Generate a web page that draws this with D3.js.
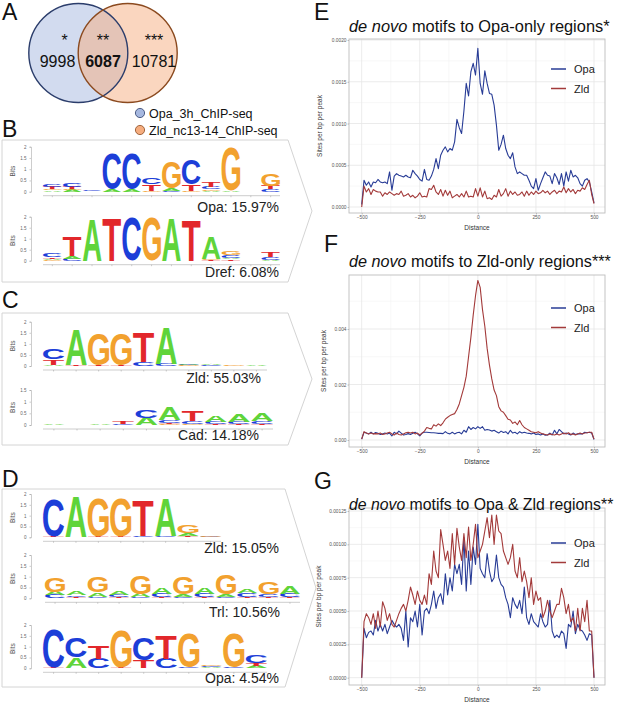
<!DOCTYPE html>
<html>
<head>
<meta charset="utf-8">
<script src="https://cdn.jsdelivr.net/npm/d3@7.9.0/dist/d3.min.js"></script>
<style>
  body { margin: 0; background: #fff; }
  text { font-family: "Liberation Sans", Arial, sans-serif; }
</style>
</head>
<body>
<svg id="fig" width="617" height="703"></svg>
<script>
// ---------------- Venn (panel A) ----------------
const vennSets = ['Opa_3h_ChIP-seq', 'Zld_nc13-14_ChIP-seq'];
const vennCounts = [9998, 6087, 10781];
const vennStars = ['*', '**', '***'];

// ---------------- motif logos (panels B-D), stacks bottom -> top, in bits ----------------
const logoB1 = [
  [['A', .06], ['G', .06], ['T', .1], ['C', .11]],
  [['A', .08], ['G', .06], ['T', .08], ['C', .18]],
  [['G', .02], ['C', .03]],
  [['A', .08], ['C', 1.6]],
  [['A', .1], ['C', 1.6]],
  [['G', .05], ['T', .28], ['C', .28]],
  [['C', .05], ['A', .1], ['G', 1.15]],
  [['G', .05], ['T', .28], ['C', 1.1]],
  [['A', .05], ['G', .05], ['C', .1], ['T', .2]],
  [['A', .05], ['G', 1.9]],
  [['A', .02], ['C', .02]],
  [['C', .1], ['T', .15], ['G', .55]]
];
const logoB2 = [
  [['G', .05], ['A', .05], ['T', .06], ['C', .2]],
  [['C', .1], ['A', .1], ['T', .85]],
  [['A', 1.9]],
  [['T', 1.95]],
  [['C', 1.95]],
  [['G', 1.95]],
  [['A', 1.95]],
  [['T', 1.85]],
  [['T', .05], ['G', .05], ['A', 1.0]],
  [['T', .06], ['A', .08], ['C', .1], ['G', .15]],
  [['C', .02], ['G', .02]],
  [['A', .05], ['C', .13], ['T', .2]]
];
const logoC1 = [
  [['A', .05], ['T', .25], ['C', .45]],
  [['T', .05], ['A', 1.6]],
  [['T', .04], ['G', 1.45]],
  [['T', .04], ['G', 1.45]],
  [['C', .18], ['T', 1.35]],
  [['C', .1], ['A', 1.65]],
  [['G', .03], ['C', .03], ['A', .04]],
  [['C', .03], ['A', .03]],
  [['G', .03]],
  [['A', .05]]
];
const logoC2 = [
  [['A', .03]],
  [['G', .02], ['A', .02]],
  [['C', .02], ['A', .03]],
  [['C', .05], ['T', .08]],
  [['A', .3], ['C', .33]],
  [['G', .03], ['T', .05], ['C', .12], ['A', .55]],
  [['G', .04], ['C', .12], ['T', .45]],
  [['T', .05], ['C', .1], ['A', .28]],
  [['T', .05], ['C', .08], ['A', .3]],
  [['T', .06], ['C', .1], ['A', .3]]
];
const logoD1 = [
  [['T', .05], ['C', 1.72]],
  [['A', 1.88]],
  [['T', .03], ['G', 1.78]],
  [['T', .03], ['G', 1.78]],
  [['C', .08], ['T', 1.62]],
  [['C', .05], ['A', 1.72]],
  [['T', .05], ['A', .13], ['G', .38]],
  [['C', .03], ['G', .04]]
];
const logoD2 = [
  [['C', .15], ['A', .15], ['G', .66]],
  [['T', .05], ['C', .08], ['A', .17]],
  [['C', .08], ['A', .2], ['G', .75]],
  [['T', .05], ['C', .1], ['A', .2]],
  [['C', .05], ['A', .15], ['G', .87]],
  [['T', .05], ['C', .15], ['A', .3]],
  [['C', .07], ['A', .1], ['G', .8]],
  [['T', .05], ['C', .15], ['A', .3]],
  [['C', .07], ['A', .1], ['G', .9]],
  [['T', .06], ['C', .18], ['A', .18]],
  [['T', .05], ['C', .12], ['G', .55]],
  [['T', .05], ['C', .15], ['A', .37]]
];
const logoD3 = [
  [['T', .03], ['C', 1.78]],
  [['A', .5], ['C', .88]],
  [['C', .45], ['T', .6]],
  [['T', .03], ['G', 1.68]],
  [['T', .38], ['C', 1.0]],
  [['C', .45], ['T', 1.05]],
  [['C', .03], ['G', 1.58]],
  [['A', .05], ['C', .05], ['G', .05]],
  [['C', .03], ['G', 1.58]],
  [['A', .1], ['T', .12], ['C', .35]]
];

// ---------------- motif density profiles (panels E-G), bins of 10 bp ----------------
const distance = d3.range(-500, 501, 10);
const eOpa = [
  .00003, .00032, .00026, .0003, .00024, .0003, .00029, .00033, .0003, .00029,
  .0003, .00028, .00042, .0002, .00037, .0004, .00038, .00037, .00036, .00038,
  .00036, .00035, .00044, .0004, .00037, .00033, .00031, .00045, .00033, .00032,
  .00037, .00045, .00058, .00046, .00062, .00068, .00072, .00066, .0007, .00068,
  .00078, .00105, .00095, .00088, .00115, .00148, .00133, .00162, .00172, .00158,
  .0019, .00148, .00135, .00163, .00148, .00136, .00135, .00122, .00098, .00068,
  .00075, .00086, .0007, .00062, .00058, .00065, .00048, .0004, .00042, .0004,
  .00038, .00038, .00032, .00025, .00022, .00034, .0002, .00028, .00035, .00042,
  .00038, .00037, .00028, .0004, .00035, .00027, .0004, .00025, .00042, .00031,
  .00044, .00036, .00038, .00035, .00028, .00025, .00032, .00034, .0003, .00018,
  .00005
];
const eZld = [
  0, .00025, .00018, .00022, .00015, .00021, .00019, .00018, .00018, .00013,
  .00017, .00015, .00018, .00016, .00014, .00016, .00015, .00019, .00013, .00014,
  .00016, .00012, .00014, .00011, .00013, .00017, .00012, .00013, .00012, .00022,
  .00021, .00026, .00018, .00015, .00021, .00013, .0002, .00014, .00019, .00011,
  .00013, .00015, .00012, .00016, .00012, .00019, .00012, .00013, .00012, .00022,
  .00013, .00023, .00012, .00019, .0001, .00011, .00009, .00014, .00012, .00021,
  .00013, .00016, .00022, .00013, .00019, .00015, .00018, .00014, .00015, .00018,
  .00013, .00019, .00014, .00018, .00015, .00019, .00016, .00017, .0002, .00017,
  .00019, .00015, .00018, .0002, .00016, .00019, .00018, .00024, .00017, .00022,
  .00018, .00021, .00016, .0002, .00019, .00023, .00021, .00027, .00032, .00015,
  .00004
];
const fOpa = [
  .00003, .00028, .00025, .00022, .00028, .00022, .00027, .00024, .0002, .00022,
  .00025, .00022, .00025, .00015, .00028, .00022, .00032, .00025, .00018, .0002,
  .00023, .0002, .00024, .00028, .00022, .00015, .00025, .00028, .00028, .00027,
  .00026, .00026, .00025, .00024, .00024, .00023, .0003, .00024, .00022, .00028,
  .00022, .00026, .00028, .00022, .00035, .00028, .00048, .00038, .00045, .0004,
  .00048, .00042, .00048, .00035, .00038, .00036, .00032, .00035, .0003, .00025,
  .00032, .00027, .0003, .00022, .00035, .00025, .00028, .00022, .0003, .00025,
  .00028, .00025, .00024, .00022, .00025, .0002, .00022, .00018, .00022, .00017,
  .00018, .00025, .00018, .00035, .00022, .00038, .0003, .00022, .00025, .00022,
  .00018, .00025, .0002, .00022, .00023, .00022, .00028, .00026, .00028, .00025,
  .00002
];
const fZld = [
  .00003, .0003, .00025, .00022, .00025, .00022, .00023, .00022, .00025, .0002,
  .00022, .00025, .00028, .00022, .00018, .00025, .0002, .00018, .00022, .00026,
  .00028, .00025, .00028, .00022, .00025, .00018, .00025, .00032, .00045, .00042,
  .0004, .00055, .0005, .00058, .00052, .00062, .00075, .00082, .00088, .00092,
  .00095, .0011, .0013, .0016, .0019, .0023, .003, .0037, .0045, .0052,
  .00575, .0055, .0047, .0041, .0033, .0027, .0022, .0018, .0016, .0012,
  .00105, .001, .00088, .00075, .00072, .0006, .00065, .00055, .0007, .00055,
  .00045, .0004, .00035, .0003, .00028, .00026, .0003, .00025, .00022, .0002,
  .00018, .00022, .0002, .00018, .00022, .00018, .00022, .00025, .00022, .00026,
  .0002, .00022, .00018, .00022, .00025, .00022, .00025, .00026, .00028, .00028,
  .00003
];
const gOpa = [
  0, .00037, .0003, .00034, .00035, .00032, .00043, .00035, .0004, .00035,
  .0004, .00033, .00038, .00043, .0004, .00038, .0004, .00037, .00028, .0005,
  .00023, .00045, .00042, .0005, .00038, .00055, .00032, .0005, .00052, .00048,
  .00055, .00065, .00052, .0006, .00063, .00055, .00078, .00062, .00075, .00065,
  .00085, .00078, .00085, .0007, .00105, .00065, .00095, .0007, .00098, .00085,
  .00115, .00082, .00078, .00075, .00093, .0008, .00072, .00075, .00092, .00075,
  .0007, .00068, .0006, .00055, .00045, .0006, .00055, .00052, .00058, .00048,
  .00068, .00045, .0004, .00048, .00042, .0004, .00038, .00048, .00042, .00038,
  .0004, .00058, .00035, .0003, .00032, .0003, .00035, .00033, .00022, .0004,
  .00038, .0005, .00033, .0004, .00036, .00035, .00032, .00028, .00033, .00032,
  0
];
const gZld = [
  0, .00042, .00048, .00045, .0004, .00048, .00037, .0005, .00038, .00057,
  .00052, .00043, .00048, .0004, .00038, .00043, .00048, .00052, .00055, .0005,
  .00058, .00068, .00062, .00055, .00065, .00058, .00055, .00062, .00055, .00078,
  .0007, .00095, .0008, .00075, .00111, .001, .00088, .00095, .00082, .00108,
  .00085, .00112, .00098, .00088, .00108, .0009, .00113, .00088, .001, .00115,
  .0009, .00095, .001, .0011, .0012, .00105, .00122, .001, .00122, .0011,
  .00108, .00095, .0009, .00085, .0009, .001, .0008, .00075, .0009, .00072,
  .0008, .00072, .0006, .00075, .00055, .00065, .00058, .0006, .00045, .0005,
  .00058, .0005, .00045, .0005, .00055, .00055, .00067, .0006, .00048, .00055,
  .00042, .00045, .00035, .00052, .00035, .00052, .00042, .00058, .00035, .00035,
  0
];
const seriesNames = ['Opa', 'Zld'];

// ---------------- drawing ----------------
const svg = d3.select('#fig');
const baseColor = { A: '#5fd43a', C: '#1c3ed8', G: '#f2a12e', T: '#e2272b' };
const lineColor = { Opa: '#283c96', Zld: '#a33a3a' };

// ink metrics of the bold letters, so each glyph can be stretched to its stack box
const ctx = document.createElement('canvas').getContext('2d');
ctx.font = 'bold 100px "Liberation Sans"';
const ink = {};
'ACGT'.split('').forEach(ch => {
  const m = ctx.measureText(ch);
  ink[ch] = { l: m.actualBoundingBoxLeft, r: m.actualBoundingBoxRight,
              a: m.actualBoundingBoxAscent, d: m.actualBoundingBoxDescent };
});

function panelLetter(txt, x, y) {
  svg.append('text').attr('x', x).attr('y', y).attr('font-size', 23).attr('fill', '#111').text(txt);
}

// ---- A: Venn ----
panelLetter('A', 2, 20);
const venn = svg.append('g');
const vx = d3.scaleLinear().domain([0, 1]).range([78.3, 127.7]);
const circleFill = ['#a6b8e0', '#f5ad7f'];
const circleStroke = ['#2b3d6b', '#8b4a1f'];
venn.selectAll('circle.fill').data(vennSets).join('circle')
  .attr('cx', (d, i) => vx(i)).attr('cy', 53).attr('r', 49.5)
  .attr('fill', (d, i) => circleFill[i]).attr('fill-opacity', 0.5);
venn.selectAll('circle.edge').data(vennSets).join('circle')
  .attr('cx', (d, i) => vx(i)).attr('cy', 53).attr('r', 49.5)
  .attr('fill', 'none').attr('stroke', (d, i) => circleStroke[i]).attr('stroke-width', 1.4);
const regionX = [57.5, 103, 154];
venn.selectAll('text.star').data(vennStars).join('text')
  .attr('x', (d, i) => regionX[i] + (i === 0 ? 7 : 0)).attr('y', 46)
  .attr('text-anchor', 'middle').attr('font-size', 16).attr('fill', '#111').text(d => d);
venn.selectAll('text.count').data(vennCounts).join('text')
  .attr('x', (d, i) => regionX[i]).attr('y', 67)
  .attr('text-anchor', 'middle').attr('font-size', 16)
  .attr('font-weight', (d, i) => i === 1 ? 'bold' : 'normal').attr('fill', '#111').text(d => d);
const leg = venn.selectAll('g.leg').data(vennSets).join('g')
  .attr('transform', (d, i) => `translate(140,${113 + i * 17})`);
leg.append('circle').attr('r', 4.6)
  .attr('fill', (d, i) => circleFill[i]).attr('stroke', (d, i) => circleStroke[i]).attr('stroke-width', 0.8);
leg.append('text').attr('x', 9).attr('y', 5).attr('font-size', 12.5).attr('fill', '#111').text(d => d);

// ---- B-D: chevron frames + logos ----
function chevron(y0, y1, xr, tip) {
  const p = d3.path();
  p.moveTo(2, y0); p.lineTo(xr, y0); p.lineTo(tip, (y0 + y1) / 2);
  p.lineTo(xr, y1); p.lineTo(2, y1); p.closePath();
  svg.append('path').attr('d', p.toString()).attr('fill', 'none')
    .attr('stroke', '#d4d4d4').attr('stroke-width', 1);
}

function drawLogo(cols, o) {
  const g = svg.append('g');
  const x = d3.scaleBand().domain(d3.range(cols.length)).range([o.x0, o.x1]).paddingInner(0.06);
  const y = d3.scaleLinear().domain([0, o.max]).range([o.base, o.top]);
  // axes
  const ya = g.append('g').attr('transform', 'translate(31,0)')
    .call(d3.axisLeft(y).tickValues(d3.range(0, o.max + 0.01, 0.5)).tickSize(1.5).tickFormat(d3.format('~g')));
  const xa = g.append('g').attr('transform', `translate(0,${o.base + 4})`)
    .call(d3.axisBottom(x).tickSize(1.5).tickFormat(''));
  [ya, xa].forEach(a => {
    a.selectAll('path,line').attr('stroke', '#9a9a9a').attr('stroke-width', 0.5);
    a.selectAll('text').attr('font-size', 4.5).attr('fill', '#666').attr('font-family', '"Liberation Sans", Arial');
  });
  xa.select('.domain').attr('d', `M${o.x0},0H${o.x1}`);
  g.append('text').attr('transform', `translate(15,${(o.base + o.top) / 2 + (o.max < 2 ? 0 : 2)}) rotate(-90)`)
    .attr('text-anchor', 'middle').attr('font-size', 6.5).attr('fill', '#555').text('Bits');
  // letters
  cols.forEach((stack, i) => {
    let cum = 0;
    stack.forEach(([ch, b]) => {
      const yb = y(cum), yt = y(cum + b);
      cum += b;
      const h = yb - yt;
      if (h < 0.4) return;
      const w = x.bandwidth();
      const k = ink[ch];
      g.append('text').text(ch).attr('font-size', 100).attr('font-weight', 'bold')
        .attr('fill', baseColor[ch])
        .attr('transform', `translate(${x(i)},${yt}) scale(${w / (k.l + k.r)},${h / (k.a + k.d)}) translate(${k.l},${k.a})`);
    });
  });
  g.append('text').attr('x', o.lx).attr('y', o.ly).attr('text-anchor', 'end')
    .attr('font-size', 14).attr('fill', '#222').text(o.label);
}

panelLetter('B', 2, 137);
chevron(140, 282, 288, 312);
drawLogo(logoB1, { x0: 43, x1: 280, base: 191.7, top: 146.7, max: 2, label: 'Opa: 15.97%', lx: 279, ly: 212 });
drawLogo(logoB2, { x0: 43, x1: 280, base: 260.7, top: 216.7, max: 2, label: 'Dref: 6.08%', lx: 279, ly: 277 });

panelLetter('C', 2, 308);
chevron(313, 445, 288, 312);
drawLogo(logoC1, { x0: 43, x1: 267, base: 366, top: 321.7, max: 2, label: 'Zld: 55.03%', lx: 261, ly: 383 });
drawLogo(logoC2, { x0: 43, x1: 273, base: 425, top: 390, max: 1.5, label: 'Cad: 14.18%', lx: 259, ly: 440 });

panelLetter('D', 2, 487);
chevron(489, 687, 285, 316);
drawLogo(logoD1, { x0: 43, x1: 221, base: 537.3, top: 494, max: 2, label: 'Zld: 15.05%', lx: 279, ly: 553 });
drawLogo(logoD2, { x0: 45, x1: 300, base: 598.3, top: 555, max: 2, label: 'Trl: 10.56%', lx: 280, ly: 617 });
drawLogo(logoD3, { x0: 43, x1: 267, base: 668.3, top: 625, max: 2, label: 'Opa: 4.54%', lx: 279, ly: 683 });

// ---- E-G: profile line charts ----
function drawProfile(o) {
  const g = svg.append('g');
  const x = d3.scaleLinear().domain([-500, 500]).range([361.7, 594]);
  const y = d3.scaleLinear().domain([0, o.yMax]).range([o.y0v, o.y1v]);
  const px0 = 349, px1 = 605;
  // grid
  const xMinor = [-375, -125, 125, 375];
  const xMajor = [-500, -250, 0, 250, 500];
  g.selectAll('line.xm').data(xMinor).join('line')
    .attr('x1', d => x(d)).attr('x2', d => x(d)).attr('y1', o.top).attr('y2', o.bot)
    .attr('stroke', '#f4f4f4').attr('stroke-width', 0.6);
  g.selectAll('line.ym').data(o.minor).join('line')
    .attr('x1', px0).attr('x2', px1).attr('y1', d => y(d)).attr('y2', d => y(d))
    .attr('stroke', '#f4f4f4').attr('stroke-width', 0.6);
  g.selectAll('line.xg').data(xMajor).join('line')
    .attr('x1', d => x(d)).attr('x2', d => x(d)).attr('y1', o.top).attr('y2', o.bot)
    .attr('stroke', '#e6e6e6').attr('stroke-width', 0.8);
  g.selectAll('line.yg').data(o.ticks).join('line')
    .attr('x1', px0).attr('x2', px1).attr('y1', d => y(d)).attr('y2', d => y(d))
    .attr('stroke', '#e6e6e6').attr('stroke-width', 0.8);
  // lines
  const line = d3.line().x((d, i) => x(distance[i])).y(d => y(d));
  [o.opa, o.zld].forEach((vals, k) => {
    g.append('path').datum(vals).attr('d', line).attr('fill', 'none')
      .attr('stroke', lineColor[seriesNames[k]]).attr('stroke-width', 1.1)
      .attr('stroke-linejoin', 'round');
  });
  // border
  g.append('rect').attr('x', px0).attr('y', o.top).attr('width', px1 - px0).attr('height', o.bot - o.top)
    .attr('fill', 'none').attr('stroke', '#bdbdbd').attr('stroke-width', 0.9);
  // axes
  const xa = g.append('g').attr('transform', `translate(0,${o.bot})`)
    .call(d3.axisBottom(x).tickValues(xMajor).tickSize(1.5).tickFormat(d3.format('d')));
  const ya = g.append('g').attr('transform', `translate(${px0},0)`)
    .call(d3.axisLeft(y).tickValues(o.ticks).tickSize(1.5).tickFormat(d3.format(o.fmt)));
  [xa, ya].forEach(a => {
    a.select('.domain').remove();
    a.selectAll('line').attr('stroke', '#888').attr('stroke-width', 0.5);
    a.selectAll('text').attr('font-size', 4.8).attr('fill', '#555').attr('font-family', '"Liberation Sans", Arial');
  });
  ya.selectAll('text').attr('x', -2.5);
  xa.selectAll('text').attr('y', 3);
  g.append('text').attr('x', (px0 + px1) / 2).attr('y', o.bot + 17).attr('text-anchor', 'middle')
    .attr('font-size', 6.5).attr('fill', '#333').text('Distance');
  g.append('text').attr('transform', `translate(${o.ylabX},${(o.top + o.bot) / 2}) rotate(-90)`)
    .attr('text-anchor', 'middle').attr('font-size', 6.5).attr('fill', '#333').text('Sites per bp per peak');
  // title
  const t = g.append('text').attr('x', 349).attr('y', o.titleY).attr('font-size', o.titleSize).attr('fill', '#111');
  t.append('tspan').attr('font-style', 'italic').text('de novo');
  t.append('tspan').text(' ' + o.title);
  // legend
  const lg = g.selectAll('g.lg').data(seriesNames).join('g')
    .attr('transform', (d, i) => `translate(551,${o.legY + i * 19.5})`);
  lg.append('line').attr('x1', 0).attr('x2', 15).attr('stroke', d => lineColor[d]).attr('stroke-width', 1.5);
  lg.append('text').attr('x', 23).attr('y', 4).attr('font-size', 11).attr('fill', '#222').text(d => d);
}

panelLetter('E', 314, 20);
drawProfile({ opa: eOpa, zld: eZld, yMax: 0.002, y0v: 207, y1v: 40, top: 39, bot: 213,
  ticks: [0, 0.0005, 0.001, 0.0015, 0.002], minor: [0.00025, 0.00075, 0.00125, 0.00175],
  fmt: '.4f', title: 'motifs to Opa-only regions*', titleY: 32, titleSize: 16.4, legY: 69, ylabX: 322 });

panelLetter('F', 324, 252);
drawProfile({ opa: fOpa, zld: fZld, yMax: 0.004, y0v: 440, y1v: 329, top: 275, bot: 447,
  ticks: [0, 0.002, 0.004], minor: [0.001, 0.003, 0.005],
  fmt: '.3f', title: 'motifs to Zld-only regions***', titleY: 267, titleSize: 16.2, legY: 308, ylabX: 326 });

panelLetter('G', 314, 489);
drawProfile({ opa: gOpa, zld: gZld, yMax: 0.00125, y0v: 677.7, y1v: 511, top: 508, bot: 685,
  ticks: [0, 0.00025, 0.0005, 0.00075, 0.001, 0.00125], minor: [0.000125, 0.000375, 0.000625, 0.000875, 0.001125],
  fmt: '.5f', title: 'motifs to Opa & Zld regions**', titleY: 510, titleSize: 15.8, legY: 543, ylabX: 321 });
</script>
</body>
</html>
